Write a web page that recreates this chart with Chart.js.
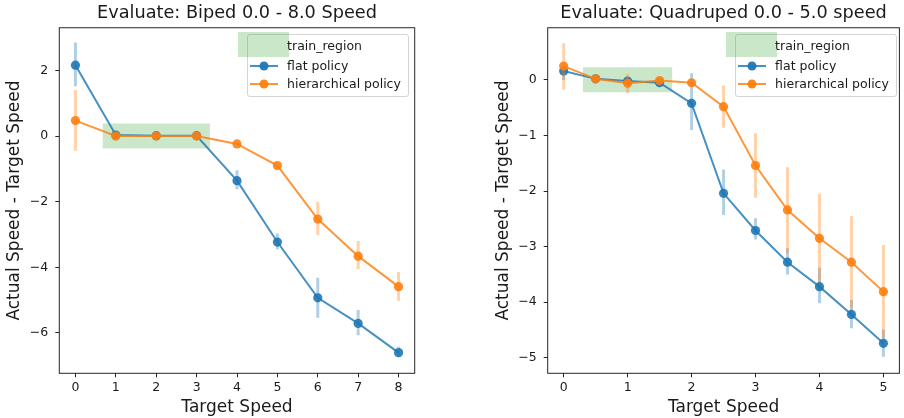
<!DOCTYPE html>
<html>
<head>
<meta charset="utf-8">
<script src="https://cdn.jsdelivr.net/npm/chart.js@4.4.0/dist/chart.umd.min.js"></script>
<style>
  body { margin: 0; background: #fff; }
  #wrap { position: relative; width: 904px; height: 418px; font-family: "DejaVu Sans", sans-serif; }
  #wrap canvas { position: absolute; top: 0; }
  .legend { position: absolute; top: 34px; width: 160px; height: 61px; border: 1px solid #d4d4d4; border-radius: 3px; background: rgba(255,255,255,0.8); }
  .patch { position: absolute; width: 51px; height: 25px; background: rgba(44,160,44,0.25); }
  .lbl { position: absolute; font-size: 12.5px; line-height: 1; color: #1a1a1a; white-space: nowrap; transform: translateY(-50%); }
  .hline { position: absolute; width: 28px; height: 2px; transform: translateY(-50%); }
  .dot { position: absolute; width: 9px; height: 9px; border-radius: 50%; transform: translate(-50%, -50%); }
</style>
</head>
<body>
<div id="wrap">
  <canvas id="biped" width="452" height="418" style="left:0"></canvas>
  <canvas id="quad" width="452" height="418" style="left:452px"></canvas>
</div>
<script>
// ---- data: biped ----
const bipedSpeeds = [0, 1, 2, 3, 4, 5, 6, 7, 8]
const bipedFlat = [2.16, 0.03, 0.01, 0.01, -1.36, -3.23, -4.93, -5.71, -6.60]
const bipedFlatLo = [1.52, 0.0, 0.0, 0.0, -1.62, -3.45, -5.54, -6.07, -6.73]
const bipedFlatHi = [2.85, 0.05, 0.03, 0.03, -1.04, -2.97, -4.32, -5.30, -6.42]
const bipedHier = [0.47, 0.0, 0.0, 0.0, -0.24, -0.90, -2.53, -3.66, -4.59]
const bipedHierLo = [-0.45, -0.02, -0.02, -0.02, -0.28, -0.95, -3.02, -4.06, -5.03]
const bipedHierHi = [1.40, 0.02, 0.02, 0.02, -0.20, -0.85, -2.00, -3.20, -4.14]
const bipedRegionX = [0.67, 3.33]
const bipedRegionY = [-0.38, 0.38]
const bipedTicksX = [0, 1, 2, 3, 4, 5, 6, 7, 8]
const bipedTicksY = [-6, -4, -2, 0, 2]

// ---- data: quadruped ----
const quadSpeeds = [0, 0.5, 1, 1.5, 2, 2.5, 3, 3.5, 4, 4.5, 5]
const quadFlat = [0.16, 0.02, -0.02, -0.05, -0.42, -2.04, -2.71, -3.28, -3.72, -4.22, -4.74]
const quadFlatLo = [0.0, -0.01, -0.07, -0.10, -0.90, -2.43, -2.87, -3.50, -4.02, -4.47, -4.98]
const quadFlatHi = [0.28, 0.05, 0.03, 0.0, 0.12, -1.61, -2.49, -3.03, -3.38, -3.96, -4.49]
const quadHier = [0.25, 0.02, -0.06, -0.01, -0.05, -0.48, -1.54, -2.34, -2.85, -3.28, -3.81]
const quadHierLo = [-0.17, -0.01, -0.24, -0.05, -0.08, -0.86, -2.12, -3.12, -3.64, -4.11, -4.65]
const quadHierHi = [0.66, 0.05, 0.11, 0.03, -0.02, -0.10, -0.96, -1.57, -2.05, -2.45, -2.97]
const quadRegionX = [0.3, 1.7]
const quadRegionY = [-0.22, 0.23]
const quadTicksX = [0, 1, 2, 3, 4, 5]
const quadTicksY = [-5, -4, -3, -2, -1, 0]

const seriesNames = ["flat policy", "hierarchical policy"]
const regionName = "train_region"

const BLUE = "31,119,180"
const ORANGE = "255,127,14"
const FONT = "'DejaVu Sans', sans-serif"
const INK = "#1a1a1a"

const fmt = (v) => String(v).replace("-", "\u2212")

// vertical error segments, separated by null gaps
function errSegments(xs, lo, hi) {
  const out = []
  xs.forEach((x, i) => {
    out.push({ x, y: lo[i] }, { x, y: hi[i] }, { x, y: null })
  })
  return out
}

const framePlugin = {
  id: "frame",
  afterDatasetsDraw(chart) {
    const { ctx, chartArea: a } = chart
    ctx.save()
    ctx.strokeStyle = "#262626"
    ctx.lineWidth = 1
    ctx.strokeRect(a.left, a.top, a.right - a.left, a.bottom - a.top)
    ctx.restore()
  },
}

function makeChart(id, cfg) {
  const ctx = document.getElementById(id).getContext("2d")
  const pts = (ys) => cfg.xs.map((x, i) => ({ x, y: ys[i] }))
  return new Chart(ctx, {
    type: "line",
    data: {
      datasets: [
        {
          label: seriesNames[1],
          data: pts(cfg.hier),
          borderColor: `rgba(${ORANGE},0.82)`,
          borderWidth: 2,
          pointRadius: 4.6,
          pointBorderWidth: 0,
          pointBackgroundColor: `rgba(${ORANGE},0.9)`,
        },
        {
          label: "hier err",
          data: errSegments(cfg.xs, cfg.hierLo, cfg.hierHi),
          borderColor: `rgba(${ORANGE},0.35)`,
          borderWidth: 3,
          pointRadius: 0,
        },
        {
          label: seriesNames[0],
          data: pts(cfg.flat),
          borderColor: `rgba(${BLUE},0.82)`,
          borderWidth: 2,
          pointRadius: 4.6,
          pointBorderWidth: 0,
          pointBackgroundColor: `rgba(${BLUE},0.9)`,
        },
        {
          label: "flat err",
          data: errSegments(cfg.xs, cfg.flatLo, cfg.flatHi),
          borderColor: `rgba(${BLUE},0.35)`,
          borderWidth: 3,
          pointRadius: 0,
        },
        {
          label: regionName,
          data: cfg.regionX.map((x) => ({ x, y: cfg.regionY[1] })),
          borderWidth: 0,
          borderColor: "rgba(0,0,0,0)",
          pointRadius: 0,
          backgroundColor: "rgba(44,160,44,0.25)",
          fill: { value: cfg.regionY[0] },
        },
      ],
    },
    options: {
      responsive: false,
      animation: false,
      devicePixelRatio: 1,
      events: [],
      layout: { padding: { left: cfg.padLeft, right: cfg.padRight, top: 0, bottom: 0 } },
      plugins: {
        legend: { display: false },
        tooltip: { enabled: false },
        title: {
          display: true,
          text: cfg.title,
          fullSize: false,
          color: INK,
          font: { family: FONT, size: 17.7, weight: "normal" },
          padding: { top: 3.1, bottom: 3.4 },
        },
      },
      scales: {
        x: {
          type: "linear",
          min: cfg.xMin,
          max: cfg.xMax,
          afterBuildTicks: (s) => { s.ticks = cfg.ticksX.map((v) => ({ value: v })) },
          afterFit: (s) => { s.height = 44.7 },
          ticks: {
            color: INK,
            font: { family: FONT, size: 12.5 },
            padding: 2.5,
            autoSkip: false,
            maxRotation: 0,
            callback: (v) => fmt(v),
          },
          grid: { drawOnChartArea: false, drawTicks: true, tickLength: 4, color: "#262626", lineWidth: 1 },
          border: { display: false },
          title: {
            display: true,
            text: "Target Speed",
            color: INK,
            font: { family: FONT, size: 17 },
            padding: { top: 0, bottom: 0.5 },
          },
        },
        y: {
          type: "linear",
          min: cfg.yMin,
          max: cfg.yMax,
          afterBuildTicks: (s) => { s.ticks = cfg.ticksY.map((v) => ({ value: v })) },
          afterFit: (s) => { s.width = 59.3 },
          ticks: {
            color: INK,
            font: { family: FONT, size: 12.5 },
            padding: 7,
            autoSkip: false,
            callback: (v) => fmt(v),
          },
          grid: { drawOnChartArea: false, drawTicks: true, tickLength: 4, color: "#262626", lineWidth: 1 },
          border: { display: false },
          title: {
            display: true,
            text: "Actual Speed - Target Speed",
            color: INK,
            font: { family: FONT, size: 17 },
            padding: { top: 4.8, bottom: 0 },
          },
        },
      },
    },
    plugins: [framePlugin],
  })
}

makeChart("biped", {
  title: "Evaluate: Biped 0.0 - 8.0 Speed",
  xs: bipedSpeeds,
  flat: bipedFlat, flatLo: bipedFlatLo, flatHi: bipedFlatHi,
  hier: bipedHier, hierLo: bipedHierLo, hierHi: bipedHierHi,
  regionX: bipedRegionX, regionY: bipedRegionY,
  ticksX: bipedTicksX, ticksY: bipedTicksY,
  xMin: -0.4, xMax: 8.4, yMin: -7.23, yMax: 3.30,
  padLeft: 0, padRight: 37.3,
})

makeChart("quad", {
  title: "Evaluate: Quadruped 0.0 - 5.0 speed",
  xs: quadSpeeds,
  flat: quadFlat, flatLo: quadFlatLo, flatHi: quadFlatHi,
  hier: quadHier, hierLo: quadHierLo, hierHi: quadHierHi,
  regionX: quadRegionX, regionY: quadRegionY,
  ticksX: quadTicksX, ticksY: quadTicksY,
  xMin: -0.25, xMax: 5.25, yMin: -5.28, yMax: 0.94,
  padLeft: 36.4, padRight: 1.7,
})

// matplotlib-style legend boxes drawn as html
function addLegend(left) {
  const wrap = document.getElementById("wrap")
  const box = document.createElement("div")
  box.className = "legend"
  box.style.left = left + "px"
  wrap.appendChild(box)

  const patch = document.createElement("div")
  patch.className = "patch"
  patch.style.left = (left - 8.7) + "px"
  patch.style.top = "32.3px"
  wrap.appendChild(patch)

  const rows = [
    { text: regionName, y: 45.7 },
    { text: seriesNames[0], y: 65.7, color: BLUE },
    { text: seriesNames[1], y: 84.3, color: ORANGE },
  ]
  rows.forEach((r) => {
    const t = document.createElement("div")
    t.className = "lbl"
    t.textContent = r.text
    t.style.left = (left + 40.4) + "px"
    t.style.top = r.y + "px"
    wrap.appendChild(t)
    if (r.color) {
      const ln = document.createElement("div")
      ln.className = "hline"
      ln.style.left = (left + 3.3) + "px"
      ln.style.top = r.y + "px"
      ln.style.background = `rgba(${r.color},0.82)`
      wrap.appendChild(ln)
      const d = document.createElement("div")
      d.className = "dot"
      d.style.left = (left + 17) + "px"
      d.style.top = r.y + "px"
      d.style.background = `rgba(${r.color},0.95)`
      wrap.appendChild(d)
    }
  })
}

addLegend(246.7)
addLegend(734.7)
</script>
</body>
</html>
